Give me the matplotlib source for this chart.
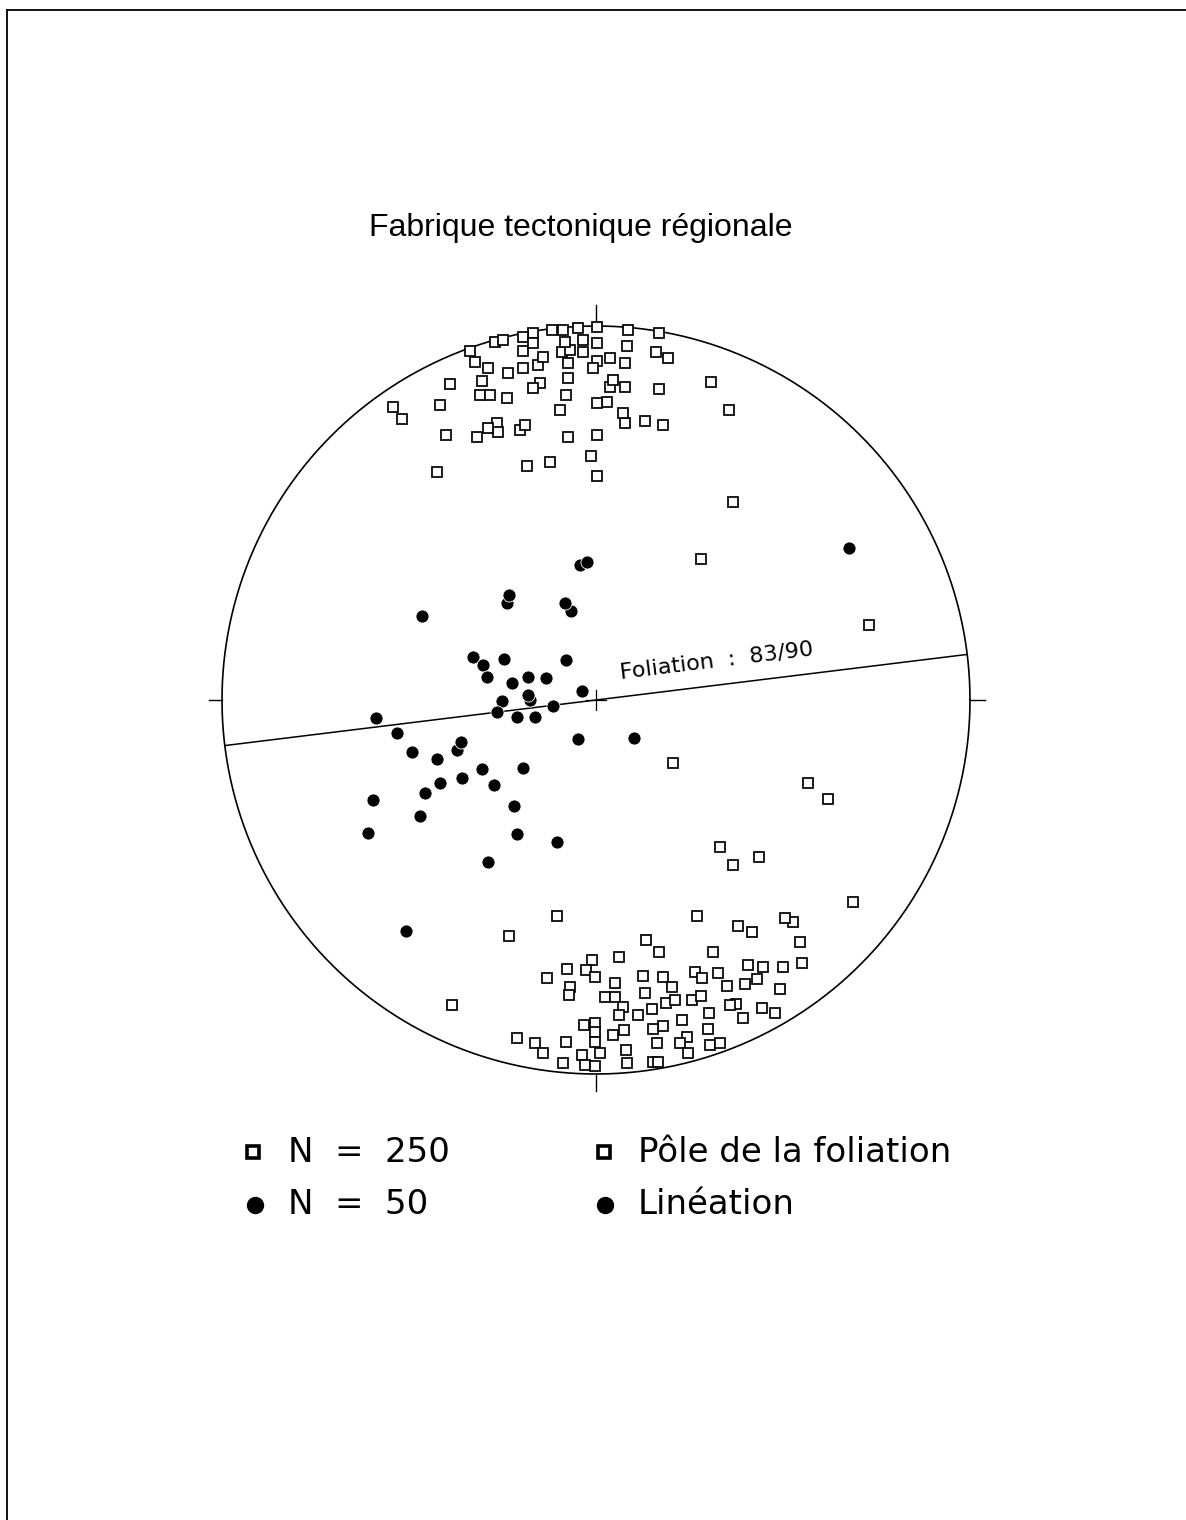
import matplotlib
matplotlib.use("Agg")
import matplotlib.pyplot as plt
import numpy as np

# ---- data (projection coordinates, primitive circle radius = 374) ----
R = 374
pole_x = [1, 32, 63, -33, -44, -18, -63, -73, -101, -93, -126, -121, -108, -88, -73, -73, -63,
          -58, -53, -34, -28, -26, -28, -30, -36, -13, 1, 1, 14, -3, 29, 31, 60, 72, 29, 14, 11,
          1, 17, 63, 115, 133, 29, 49, 67, 27, 1, -28, -76, -71, -99, -98, -108, -119, -150,
          -159, -69, -46, -5, 1, -156, -146, -114, -116, -106, -89, -56, -63, -203, -194, -31, -13,
          137, 105, 273, 77, 212, 232, 124, 137, 163, 257, 101, -39, -87, -144,
          142, 156, 197, 189, 204, 206, 187, 167, 152, 161, 149, 131, 122, 99, 106, 117, 50, 63,
          23, -4, -29, -10, -1, -49, -26, -27, 19, 9, 19, 47, 67, 76, 49, 70, 79, 96, 105, 113,
          184, 140, 134, 147, 166, 179, 56, 42, 27, 23, 86, 112, 91, 84, 114, 124, 92, 67, 57,
          61, 57, 62, 28, 17, 30, 4, -1, -1, -1, -12, -30, -79, -61, -53, -33, -14, -11, -1, 31]
pole_y = [373, 370, 367, 370, 370, 372, 367, 363, 358, 360, 349, 338, 332, 327, 332, 349, 357,
          335, 343, 348, 337, 350, 322, 305, 290, 348, 357, 339, 342, 332, 337, 354, 348, 342,
          313, 313, 298, 297, 320, 311, 318, 290, 277, 279, 275, 287, 265, 263, 270, 275, 277,
          268, 272, 263, 265, 228, 234, 238, 244, 224, 295, 316, 319, 305, 305, 302, 317, 312,
          293, 281, 358, 360,
          198, 141, 75, -63, -83, -99, -147, -165, -157, -202, -216, -216, -236, -305,
          -226, -232, -222, -218, -242, -263, -267, -267, -265, -279, -284, -286, -273, -272,
          -278, -252, -240, -252, -257, -260, -269, -270, -277, -278, -287, -295, -283, -297,
          -297, -276, -277, -287, -293, -303, -300, -300, -296, -313, -289, -304, -305, -318,
          -308, -313, -309, -315, -307, -315, -320, -329, -337, -343, -345, -343, -353, -326,
          -329, -343, -362, -362, -330, -335, -350, -353, -323, -332, -342, -325, -342, -338,
          -343, -353, -363, -355, -365, -366, -363]

lin_x = [253, -16, -9, -89, -87, -25, -31, -174, -123, -113, -92, -30, -109, -84, -68, -50, -14,
         -66, -68, -94, -43, -99, -79, -61, -220, -199, -18, 38, -139, -135, -184, -159, -73,
         -114, -134, -156, -102, -171, -223, -82, -176, -228, -79, -39, -108, -190]
lin_y = [152, 135, 138, 97, 105, 89, 97, 84, 43, 35, 41, 40, 23, 17, 23, 22, 9,
         0, 5, -1, -6, -12, -17, -17, -18, -33, -39, -38, -50, -42, -52, -59, -68,
         -69, -78, -83, -85, -93, -100, -106, -116, -133, -134, -142, -162, -231]

foliation_strike = 83
foliation_dip = 90
title = "Fabrique tectonique régionale"
legend_n = ["N  =  250", "N  =  50"]
legend_labels = ["Pôle de la foliation", "Linéation"]

# ---- figure ----
W, H = 1186, 1520
fig = plt.figure(figsize=(W / 100, H / 100), dpi=100)
fig.patch.set_facecolor("white")

cx, cy = 596, 700
half = 1.1 * R
ax = fig.add_axes([(cx - half) / W, (H - cy - half) / H, 2 * half / W, 2 * half / H])
ax.set_xlim(-half, half)
ax.set_ylim(-half, half)
ax.set_aspect("equal")
ax.axis("off")

t = np.linspace(0, 2 * np.pi, 720)
ax.plot(R * np.cos(t), R * np.sin(t), color="black", lw=1.2)

# cardinal ticks
tl = 17
ax.plot([0, 0], [R, R + tl + 4], color="black", lw=1.0)
ax.plot([0, 0], [-R, -R - tl], color="black", lw=1.0)
ax.plot([-R, -R - tl + 4], [0, 0], color="black", lw=1.0)
ax.plot([R, R + tl - 2], [0, 0], color="black", lw=1.0)
# center cross
ax.plot([-10, 10], [0, 0], color="black", lw=0.9)
ax.plot([0, 0], [-10, 10], color="black", lw=0.9)

# foliation (vertical plane -> straight line through centre)
a = np.radians(foliation_strike)
dx, dy = np.sin(a), np.cos(a)
ax.plot([-R * dx, R * dx], [-R * dy, R * dy], color="black", lw=1.1)
ang = 90 - foliation_strike
ax.text(25, 3 + 25 * np.tan(np.radians(ang)) + 11, "Foliation  :  83/90", rotation=ang,
        rotation_mode="anchor", ha="left", va="bottom", fontsize=16, family="DejaVu Sans")

# poles of foliation
for x, y in zip(pole_x, pole_y):
    ax.plot(x, y, marker="s", ms=7.8, mfc="white", mec="black", mew=1.25, ls="none")
# lineations
ax.plot(lin_x, lin_y, marker="o", ms=9.4, mfc="black", mec="white", mew=0.6, ls="none")

# title
fig.text(581 / W, 1 - 228 / H, title, ha="center", va="center", fontsize=23,
         family="Liberation Sans")

# legend
def fx(px):
    return px / W

def fy(py):
    return 1 - py / H

lax = fig.add_axes([0, 0, 1, 1])
lax.set_xlim(0, W)
lax.set_ylim(H, 0)
lax.axis("off")
lax.plot([253, 604], [1152, 1152], marker="s", ms=9, mfc="white", mec="black", mew=2.6, ls="none")
lax.plot([255, 605], [1205, 1205], marker="o", ms=11.5, mfc="black", mec="black", ls="none")
for txt, px, py in [(legend_n[0], 288, 1152), (legend_n[1], 288, 1205),
                    (legend_labels[0], 638, 1152), (legend_labels[1], 638, 1205)]:
    fig.text(fx(px), fy(py), txt, ha="left", va="center", fontsize=24.5, family="DejaVu Sans")

# page border (top and left)
lax.plot([7, W], [10, 10], color="black", lw=1.3)
lax.plot([7, 7], [10, H], color="black", lw=1.3)

fig.savefig("out.png", dpi=100, facecolor="white")
